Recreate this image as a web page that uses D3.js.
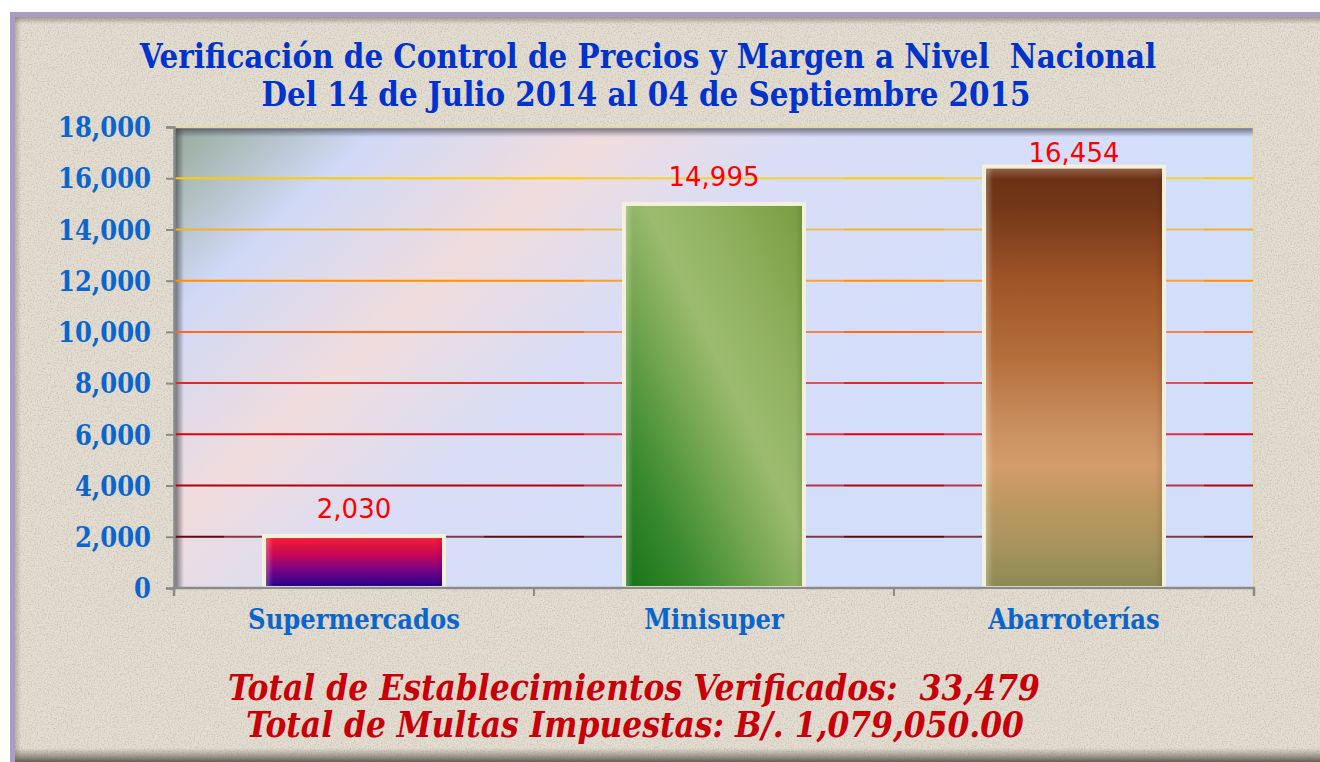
<!DOCTYPE html>
<html><head><meta charset="utf-8">
<script src="https://cdn.jsdelivr.net/npm/d3@7"></script>
<style>html,body{margin:0;padding:0;background:#fff;overflow:hidden}</style>
</head><body>
<script>
// ---- data ----
const categories = ["Supermercados", "Minisuper", "Abarroterías"];
const values = [2030, 14995, 16454];
const yTicks = [0, 2000, 4000, 6000, 8000, 10000, 12000, 14000, 16000, 18000];
const titleLines = ["Verificación de Control de Precios y Margen a Nivel  Nacional",
                    "Del 14 de Julio 2014 al 04 de Septiembre 2015"];
const footerLines = ["Total de Establecimientos Verificados:  33,479",
                     "Total de Multas Impuestas: B/. 1,079,050.00"];

// ---- styles ----
const gridColors = {2000:"#5c0a14",4000:"#b40006",6000:"#e00012",8000:"#ea2418",10000:"#ff6a18",12000:"#ff9000",14000:"#f6b024",16000:"#ffcc00"};
const barGrads = [
  {type:"v", stops:[[0,"#f2505c"],[0.06,"#f01c38"],[0.35,"#c80856"],[0.65,"#7a0486"],[1,"#200088"]]},
  {type:"d", stops:[[0,"#167216"],[0.2,"#3a8a2e"],[0.4,"#74a650"],[0.56,"#9cbb6e"],[0.72,"#92b262"],[1,"#789c40"]]},
  {type:"v", stops:[[0,"#9c6a50"],[0.03,"#6a3215"],[0.1,"#743818"],[0.27,"#a05428"],[0.45,"#b46e3c"],[0.6,"#c88c5c"],[0.71,"#d39c6b"],[0.79,"#c09860"],[0.9,"#a8945e"],[1,"#8c8852"]]}
];

const W = 1320, H = 762;
const plot = {l:174, t:127, r:1254, b:588};

const svg = d3.select("body").append("svg").attr("width", W).attr("height", H);
const defs = svg.append("defs");

// noise texture
const f = defs.append("filter").attr("id","noise").attr("x",0).attr("y",0).attr("width","100%").attr("height","100%");
f.append("feTurbulence").attr("type","fractalNoise").attr("baseFrequency",0.7).attr("numOctaves",3).attr("seed",4).attr("result","t");
f.append("feColorMatrix").attr("in","t").attr("type","matrix")
 .attr("values","0 0 0 0 0.45  0 0 0 0 0.40  0 0 0 0 0.33  0 0 0 -2.2 1.25");

// background panel
svg.append("rect").attr("x",10).attr("y",12).attr("width",W).attr("height",H).attr("fill","#ab9cc6");
svg.append("rect").attr("x",15).attr("y",17).attr("width",W).attr("height",H).attr("fill","#e4ddd1");
svg.append("rect").attr("x",15).attr("y",17).attr("width",W).attr("height",H).attr("filter","url(#noise)").attr("opacity",0.55);
const gTop = defs.append("linearGradient").attr("id","shTop").attr("x1",0).attr("y1",0).attr("x2",0).attr("y2",1);
gTop.append("stop").attr("offset",0).attr("stop-color","#6e665a").attr("stop-opacity",0.55);
gTop.append("stop").attr("offset",1).attr("stop-color","#6e665a").attr("stop-opacity",0);
svg.append("rect").attr("x",15).attr("y",17).attr("width",W).attr("height",7).attr("fill","url(#shTop)");
const gBot = defs.append("linearGradient").attr("id","shBot").attr("x1",0).attr("y1",1).attr("x2",0).attr("y2",0);
gBot.append("stop").attr("offset",0).attr("stop-color","#55504a").attr("stop-opacity",0.9);
gBot.append("stop").attr("offset",1).attr("stop-color","#6e665a").attr("stop-opacity",0);
svg.append("rect").attr("x",15).attr("y",748).attr("width",W).attr("height",14).attr("fill","url(#shBot)");
const gLeft = defs.append("linearGradient").attr("id","shLeft").attr("x1",0).attr("y1",0).attr("x2",1).attr("y2",0);
gLeft.append("stop").attr("offset",0).attr("stop-color","#6e665a").attr("stop-opacity",0.35);
gLeft.append("stop").attr("offset",1).attr("stop-color","#6e665a").attr("stop-opacity",0);
svg.append("rect").attr("x",15).attr("y",17).attr("width",6).attr("height",H).attr("fill","url(#shLeft)");

// scales
const x = d3.scaleBand().domain(categories).range([plot.l, plot.r]).paddingInner(0.5).paddingOuter(0.25);
const y = d3.scaleLinear().domain([0, 18000]).range([plot.b, plot.t]);

// plot background gradient
const pg = defs.append("linearGradient").attr("id","plotBg").attr("gradientUnits","userSpaceOnUse")
  .attr("x1",plot.l).attr("y1",plot.t).attr("x2",plot.l+470).attr("y2",plot.t+515);
[[0,"#97aa99"],[0.2,"#d0d9f6"],[0.42,"#f0dcdd"],[0.62,"#d9ddf5"],[1,"#d3defb"]].forEach(s=>pg.append("stop").attr("offset",s[0]).attr("stop-color",s[1]));
svg.append("rect").attr("x",plot.l).attr("y",plot.t).attr("width",plot.r-plot.l).attr("height",plot.b-plot.t).attr("fill","url(#plotBg)");
const ps1 = defs.append("linearGradient").attr("id","pShT").attr("x1",0).attr("y1",0).attr("x2",0).attr("y2",1);
ps1.append("stop").attr("offset",0).attr("stop-color","#3c3c5a").attr("stop-opacity",0.75);
ps1.append("stop").attr("offset",1).attr("stop-color","#3c3c5a").attr("stop-opacity",0);
svg.append("rect").attr("x",plot.l).attr("y",plot.t).attr("width",plot.r-plot.l).attr("height",10).attr("fill","url(#pShT)");
const ps2 = defs.append("linearGradient").attr("id","pShL").attr("x1",0).attr("y1",0).attr("x2",1).attr("y2",0);
ps2.append("stop").attr("offset",0).attr("stop-color","#3c3c40").attr("stop-opacity",0.75);
ps2.append("stop").attr("offset",1).attr("stop-color","#3c3c40").attr("stop-opacity",0);
svg.append("rect").attr("x",plot.l).attr("y",plot.t).attr("width",10).attr("height",plot.b-plot.t).attr("fill","url(#pShL)");
svg.append("path").attr("d",`M${plot.l},${plot.t+0.5}H${plot.r-0.5}V${plot.b}`).attr("fill","none").attr("stroke","#e8d98e").attr("stroke-width",1.5);

// gridline mask (soft halo around bars)
const mask = defs.append("mask").attr("id","gridMask").attr("maskUnits","userSpaceOnUse")
  .attr("x",0).attr("y",0).attr("width",W).attr("height",H);
mask.append("rect").attr("width",W).attr("height",H).attr("fill","#fff");
mask.selectAll("rect.h").data(values).join("rect").attr("class","h")
  .attr("x",(d,i)=>x(categories[i])-40).attr("width",x.bandwidth()+80)
  .attr("y",d=>y(d)-30).attr("height",d=>plot.b-y(d)+30).attr("fill","#c4c4c4");

svg.append("g").attr("mask","url(#gridMask)")
  .selectAll("line").data(yTicks.filter(t=>t>0 && t<18000)).join("line")
  .attr("x1",plot.l+1).attr("x2",plot.r-1).attr("y1",d=>y(d)).attr("y2",d=>y(d))
  .attr("stroke",d=>gridColors[d]).attr("stroke-width",2);

// bars
barGrads.forEach((g,i)=>{
  const lg = defs.append("linearGradient").attr("id","bar"+i);
  if(g.type==="v") lg.attr("x1",0).attr("y1",0).attr("x2",0).attr("y2",1);
  else lg.attr("x1",0).attr("y1",1).attr("x2",1).attr("y2",0);
  g.stops.forEach(s=>lg.append("stop").attr("offset",s[0]).attr("stop-color",s[1]));
});
const bev = defs.append("linearGradient").attr("id","bevel").attr("x1",0).attr("y1",0).attr("x2",1).attr("y2",0);
[[0,"#ffffff",0.35],[0.05,"#ffffff",0],[0.95,"#000000",0],[1,"#000000",0.12]].forEach(s=>bev.append("stop").attr("offset",s[0]).attr("stop-color",s[1]).attr("stop-opacity",s[2]));

const bars = svg.append("g").selectAll("g").data(values).join("g");
bars.append("rect")
  .attr("x",(d,i)=>x(categories[i])).attr("width",x.bandwidth())
  .attr("y",d=>y(d)).attr("height",d=>plot.b-y(d))
  .attr("fill",(d,i)=>`url(#bar${i})`);
bars.append("rect")
  .attr("x",(d,i)=>x(categories[i])).attr("width",x.bandwidth())
  .attr("y",d=>y(d)).attr("height",d=>plot.b-y(d))
  .attr("fill","url(#bevel)").attr("stroke","#f3f0dc").attr("stroke-width",4);

// axes
const yAxis = svg.append("g").attr("transform",`translate(${plot.l},0)`)
  .call(d3.axisLeft(y).tickValues(yTicks).tickFormat(d3.format(",")).tickSize(8).tickPadding(15));
yAxis.select(".domain").attr("stroke","#8a8a8a").attr("stroke-width",2.5);
yAxis.selectAll(".tick line").attr("stroke","#8a8a8a").attr("stroke-width",2);
yAxis.selectAll(".tick text").attr("fill","#0a66cc").attr("font-family","'DejaVu Serif'")
  .attr("font-weight","bold").attr("font-size",27).attr("font-stretch","condensed").attr("dy","0.36em");

const xAxis = svg.append("g").attr("transform",`translate(0,${plot.b})`)
  .call(d3.axisBottom(x).tickSize(0).tickPadding(0));
xAxis.select(".domain").remove();
xAxis.append("path").attr("d",`M${plot.l},8V0H${plot.r}V8`).attr("fill","none").attr("stroke","#8a8a8a").attr("stroke-width",2.5);
xAxis.selectAll(".bt").data(d3.range(1,categories.length)).join("line").attr("class","bt")
  .attr("x1",i=>x(categories[i])-x.step()*x.paddingInner()/2).attr("x2",i=>x(categories[i])-x.step()*x.paddingInner()/2)
  .attr("y1",0).attr("y2",8).attr("stroke","#8a8a8a").attr("stroke-width",2);
xAxis.selectAll(".tick text").attr("fill","#0a66cc").attr("font-family","'DejaVu Serif'")
  .attr("font-weight","bold").attr("font-size",27).attr("font-stretch","condensed").attr("y",41).attr("dy",0);

// value labels
svg.append("g").selectAll("text").data(values).join("text")
  .attr("x",(d,i)=>x(categories[i])+x.bandwidth()/2)
  .attr("y",d=>Math.max(y(d)-18, plot.t+35))
  .attr("text-anchor","middle").attr("fill","#ff0000")
  .attr("font-family","'DejaVu Sans'").attr("font-size",26)
  .text(d=>d3.format(",")(d));

function fit(sel, target){
  const w = sel.node().getComputedTextLength();
  const fs = parseFloat(sel.attr("font-size"));
  sel.attr("font-size", fs*target/w);
}

// title
const tW = [1017, 769], tY = [68, 106], tX = [648, 646];
titleLines.forEach((t,i)=>{
  const s = svg.append("text").attr("x",tX[i]).attr("y",tY[i]).attr("text-anchor","middle")
    .attr("fill","#0033cc").attr("font-family","'DejaVu Serif'").attr("font-weight","bold")
    .attr("font-stretch","condensed").attr("font-size",30).style("white-space","pre").text(t);
  fit(s, tW[i]);
});

// footer
const fW = [812, 778], fY = [700, 737], fX = [634, 635];
footerLines.forEach((t,i)=>{
  const s = svg.append("text").attr("x",fX[i]).attr("y",fY[i]).attr("text-anchor","middle")
    .attr("fill","#c8000a").attr("font-family","'DejaVu Serif'").attr("font-style","italic")
    .attr("font-weight","bold").attr("font-stretch","condensed")
    .attr("font-size",30).style("white-space","pre").text(t);
  fit(s, fW[i]);
});
</script>
</body></html>
